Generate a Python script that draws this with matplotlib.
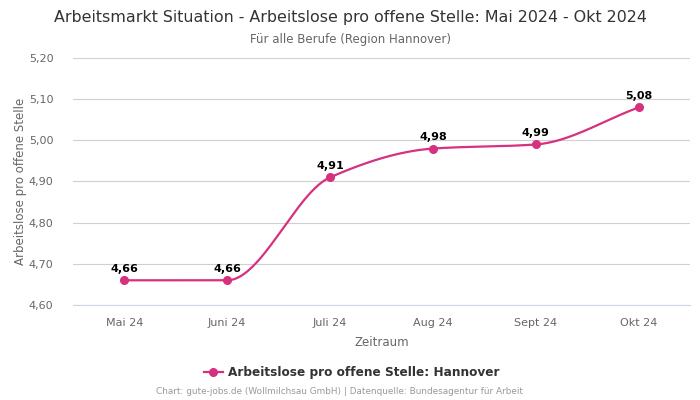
import matplotlib

matplotlib.use("Agg")

import matplotlib.pyplot as plt
import numpy as np
from matplotlib.lines import Line2D

months = ["Mai 24", "Juni 24", "Juli 24", "Aug 24", "Sept 24", "Okt 24"]
values = [4.66, 4.66, 4.91, 4.98, 4.99, 5.08]
y_ticks = [4.60, 4.70, 4.80, 4.90, 5.00, 5.10, 5.20]

LINE = "#d6317f"


def pchip(x, y, n=400):
    """Monotone cubic curve through the points (Fritsch-Carlson), for drawing only."""
    x = np.asarray(x, float)
    y = np.asarray(y, float)
    h = np.diff(x)
    d = np.diff(y) / h
    m = np.zeros_like(y)
    m[0], m[-1] = d[0], d[-1]
    for k in range(1, len(y) - 1):
        if d[k - 1] * d[k] > 0:
            m[k] = 2 * d[k - 1] * d[k] / (d[k - 1] + d[k])
    xs = np.linspace(x[0], x[-1], n)
    idx = np.clip(np.searchsorted(x, xs) - 1, 0, len(h) - 1)
    t = (xs - x[idx]) / h[idx]
    h00 = 2 * t**3 - 3 * t**2 + 1
    h10 = t**3 - 2 * t**2 + t
    h01 = -2 * t**3 + 3 * t**2
    h11 = t**3 - t**2
    ys = h00 * y[idx] + h10 * h[idx] * m[idx] + h01 * y[idx + 1] + h11 * h[idx] * m[idx + 1]
    return xs, ys


plt.rcParams.update({"font.family": "DejaVu Sans"})
fig = plt.figure(figsize=(7, 4), dpi=100)
ax = fig.add_axes([0.104, 0.2375, 0.882, 0.6175])

x = np.arange(len(months))
xs, ys = pchip(x, values)
ax.plot(xs, ys, color=LINE, linewidth=1.6, zorder=3)
ax.plot(x, values, "o", color=LINE, markersize=5.5, zorder=4)
for xi, v in zip(x, values):
    ax.annotate(f"{v:.2f}".replace(".", ","), (xi, v), xytext=(0, 4.5),
                textcoords="offset points", ha="center", va="bottom",
                fontsize=8, fontweight="bold", color="black")

ax.set_xlim(-0.5, len(months) - 0.5)
ax.set_ylim(4.60, 5.20)
ax.set_yticks(y_ticks)
ax.set_yticklabels([f"{t:.2f}".replace(".", ",") for t in y_ticks])
ax.set_xticks(x)
ax.set_xticklabels(months)
ax.tick_params(axis="both", length=0, labelsize=8, colors="#666666")
ax.tick_params(axis="x", pad=9)
ax.tick_params(axis="y", pad=14)
ax.grid(axis="y", color="#d0d0d0", linewidth=0.8)
for s in ["top", "right", "left"]:
    ax.spines[s].set_visible(False)
ax.spines["bottom"].set_color("#ccd6eb")
ax.spines["bottom"].set_linewidth(0.8)
ax.set_axisbelow(True)

ax.set_xlabel("Zeitraum", fontsize=8.5, color="#666666", labelpad=6)
ax.set_ylabel("Arbeitslose pro offene Stelle", fontsize=8.5, color="#666666", labelpad=1)

fig.text(0.5, 0.957, "Arbeitsmarkt Situation - Arbeitslose pro offene Stelle: Mai 2024 - Okt 2024",
         ha="center", va="center", fontsize=11.4, color="#333333")
fig.text(0.5, 0.902, "Für alle Berufe (Region Hannover)", ha="center", va="center",
         fontsize=8.5, color="#666666")

handle = Line2D([], [], color=LINE, marker="o", markersize=5.5, linewidth=1.6)
fig.legend([handle], ["Arbeitslose pro offene Stelle: Hannover"], loc="center",
           bbox_to_anchor=(0.502, 0.068), frameon=False, handlelength=1.6,
           handletextpad=0.4, prop={"size": 8.7, "weight": "bold"}, labelcolor="#333333")
fig.text(0.485, 0.02, "Chart: gute-jobs.de (Wollmilchsau GmbH) | Datenquelle: Bundesagentur für Arbeit",
         ha="center", va="center", fontsize=6.4, color="#999999")

fig.savefig("out.png", dpi=100, facecolor="white")
plt.close(fig)
